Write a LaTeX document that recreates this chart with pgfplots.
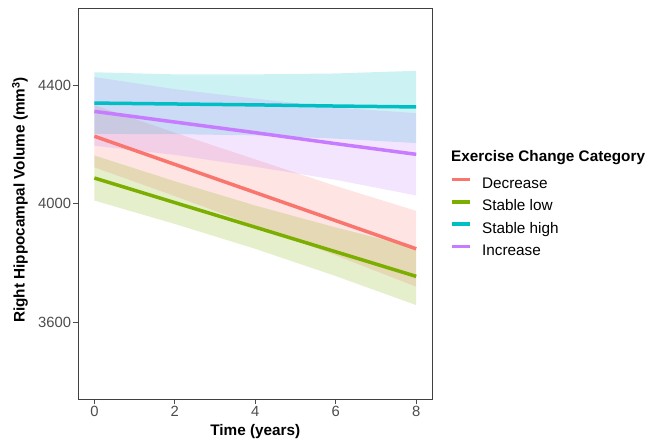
\documentclass[border=0pt]{standalone}
\usepackage{fontspec}
\setmainfont{Liberation Sans}
\usepackage{pgfplots}
\pgfplotsset{compat=1.18}
\usepackage{pgfplotstable}
\usepgfplotslibrary{fillbetween}

\definecolor{cDec}{HTML}{F8766D}
\definecolor{cLow}{HTML}{7CAE00}
\definecolor{cHigh}{HTML}{00BFC4}
\definecolor{cInc}{HTML}{C77CFF}

% predicted volume with 95% band, per group
\pgfplotstableread{
t fit lo hi
0 4228 4123 4333
2 4133 4026 4240
4 4038 3926 4150
6 3943 3826 4060
8 3848 3720 3976
}\decr
\pgfplotstableread{
t fit lo hi
0 4087 4011 4163
2 4004 3932 4076
4 3921 3848 3994
6 3838 3756 3920
8 3755 3658 3852
}\stlow
\pgfplotstableread{
t fit lo hi
0 4340 4236 4444
2 4337 4235 4437
4 4334 4231 4437
6 4330 4220 4440
8 4327 4205 4449
}\sthigh
\pgfplotstableread{
t fit lo hi
0 4312 4196 4428
2 4276 4165 4387
4 4240 4125 4355
6 4203 4081 4325
8 4167 4028 4306
}\incr

\begin{document}
\begin{tikzpicture}
\begin{axis}[
  at={(0,0)}, anchor=south west,
  width=354bp, height=391bp, scale only axis,
  clip mode=individual,
  xmin=-0.4, xmax=8.4, ymin=3340, ymax=4660,
  xtick={0,2,4,6,8}, ytick={3600,4000,4400},
  xtick pos=bottom, ytick pos=left,
  axis line style={black!75, line width=0.9bp},
  tick align=outside, major tick length=5bp,
  tick style={black!70, line width=0.9bp},
  every tick label/.append style={font=\fontsize{14.8bp}{17bp}\selectfont, text=black!70},
  xticklabel style={inner sep=2bp},
  yticklabel style={inner sep=2bp},
  /pgf/number format/assume math mode=true,
  /pgf/number format/set thousands separator={},
  xlabel={Time (years)},
  xlabel style={at={(axis description cs:0.5,-0.0829)}, anchor=center, font=\fontsize{15.3bp}{18bp}\selectfont\bfseries},
  ylabel={Right Hippocampal Volume (mm\textsuperscript{3})},
  ylabel style={at={(axis description cs:-0.1647,0.51)}, anchor=center, rotate=0, font=\fontsize{15.3bp}{18bp}\selectfont\bfseries},
  legend style={at={(axis description cs:1.0489,0.5678)}, anchor=north west, draw=none, fill=none,
    inner sep=0pt, row sep=8.3bp, column sep=10.1bp,
    font=\fontsize{15.3bp}{18bp}\selectfont,
    nodes={inner sep=0pt, text height=11bp, text depth=3bp}},
  legend cell align=left,
  legend image code/.code={\draw[line width=3.5bp] (0bp,5bp) -- (18.7bp,5bp);},
]
% ribbons
\addplot[name path=dU, draw=none, forget plot] table[x=t,y=hi]{\decr};
\addplot[name path=dL, draw=none, forget plot] table[x=t,y=lo]{\decr};
\addplot[fill=cDec, fill opacity=0.2, draw=none, forget plot] fill between[of=dU and dL];
\addplot[name path=lU, draw=none, forget plot] table[x=t,y=hi]{\stlow};
\addplot[name path=lL, draw=none, forget plot] table[x=t,y=lo]{\stlow};
\addplot[fill=cLow, fill opacity=0.2, draw=none, forget plot] fill between[of=lU and lL];
\addplot[name path=hU, draw=none, forget plot] table[x=t,y=hi]{\sthigh};
\addplot[name path=hL, draw=none, forget plot] table[x=t,y=lo]{\sthigh};
\addplot[fill=cHigh, fill opacity=0.2, draw=none, forget plot] fill between[of=hU and hL];
\addplot[name path=iU, draw=none, forget plot] table[x=t,y=hi]{\incr};
\addplot[name path=iL, draw=none, forget plot] table[x=t,y=lo]{\incr};
\addplot[fill=cInc, fill opacity=0.2, draw=none, forget plot] fill between[of=iU and iL];
% fitted lines
\addplot[cDec, line width=3.5bp] table[x=t,y=fit]{\decr};
\addlegendentry{Decrease}
\addplot[cLow, line width=3.5bp] table[x=t,y=fit]{\stlow};
\addlegendentry{Stable low}
\addplot[cHigh, line width=3.5bp] table[x=t,y=fit]{\sthigh};
\addlegendentry{Stable high}
\addplot[cInc, line width=3.5bp] table[x=t,y=fit]{\incr};
\addlegendentry{Increase}
\node[anchor=base west, inner sep=0pt, font=\fontsize{15.3bp}{18bp}\selectfont\bfseries]
  at (axis description cs:1.0528,0.609) {Exercise Change Category};
\end{axis}
\pgfresetboundingbox
\path (-78.3bp,-44.7bp) rectangle (571.7bp,399.3bp);
\end{tikzpicture}
\end{document}
